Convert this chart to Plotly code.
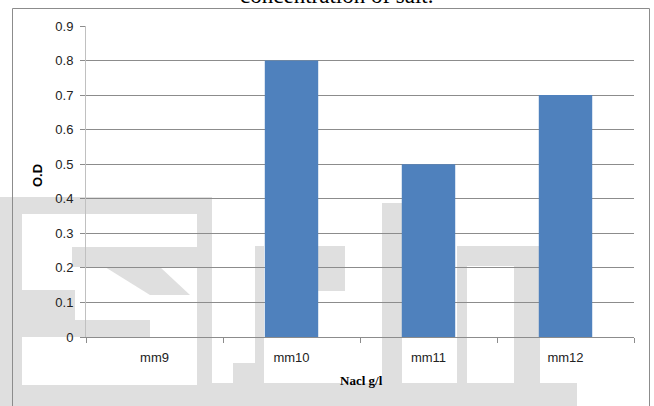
import plotly.graph_objects as go

# Optical density readings per medium
categories = ["mm9", "mm10", "mm11", "mm12"]
od_values = [0.0, 0.8, 0.5, 0.7]

y_ticks = [0, 0.1, 0.2, 0.3, 0.4, 0.5, 0.6, 0.7, 0.8, 0.9]
y_tick_text = ["0", "0.1", "0.2", "0.3", "0.4", "0.5", "0.6", "0.7", "0.8", "0.9"]

W, H = 654, 406
L, R, T, B = 86, 20, 26, 69
PW, PH = W - L - R, H - T - B


def px_x(p):
    return (p - L) / PW


def px_y(p):
    return (H - B - p) / PH


# Faint background lettering (pixel boxes: x0, y0, x1, y1)
backdrop_boxes = [
    (0, 197, 212, 214), (0, 197, 22, 406), (72, 247, 200, 267),
    (0, 290, 75, 337), (0, 320, 150, 337), (0, 385, 212, 406),
    (197, 197, 212, 406),
    (255, 246, 264, 406), (318, 246, 345, 291), (210, 383, 330, 406),
    (233, 363, 264, 406),
    (382, 203, 402, 406), (457, 246, 540, 266), (457, 246, 467, 383),
    (514, 246, 540, 406), (324, 383, 577, 406),
]

shapes = []
for x0, y0, x1, y1 in backdrop_boxes:
    shapes.append(dict(type="rect", xref="paper", yref="paper",
                       x0=px_x(x0), x1=px_x(x1), y0=px_y(y1), y1=px_y(y0),
                       fillcolor="#dfdfdf", line=dict(width=0), layer="below"))
shapes.append(dict(type="path", xref="paper", yref="paper",
                   path="M {} {} L {} {} L {} {} L {} {} Z".format(
                       px_x(105), px_y(267), px_x(160), px_y(267),
                       px_x(190), px_y(295), px_x(150), px_y(295)),
                   fillcolor="#dfdfdf", line=dict(width=0), layer="below"))

# Outer chart frame
shapes.append(dict(type="rect", xref="paper", yref="paper",
                   x0=px_x(12.5), x1=px_x(649.5), y0=px_y(420), y1=px_y(8.5),
                   fillcolor="rgba(0,0,0,0)", line=dict(color="#8c8c8c", width=1),
                   layer="above"))

fig = go.Figure()
fig.add_trace(go.Bar(
    x=categories, y=od_values,
    marker=dict(color="#4f81bd", line=dict(width=0)),
    width=0.39,
))

fig.update_layout(
    width=W, height=H,
    margin=dict(l=L, r=R, t=T, b=B),
    paper_bgcolor="white", plot_bgcolor="white",
    showlegend=False,
    shapes=shapes,
    font=dict(family="Liberation Sans, Arial, sans-serif", size=13, color="#222"),
    annotations=[
        dict(text="concentration of salt.", xref="paper", yref="paper",
             x=px_x(337), y=px_y(10), xanchor="center", yanchor="bottom",
             showarrow=False,
             font=dict(family="Liberation Serif, Times New Roman, serif",
                       size=23, color="black")),
        dict(text="<b>Nacl g/l</b>", xref="paper", yref="paper",
             x=px_x(361), y=px_y(380), xanchor="center", yanchor="middle",
             showarrow=False,
             font=dict(family="Liberation Serif, Times New Roman, serif",
                       size=13, color="black")),
        dict(text="<b>O.D</b>", xref="paper", yref="paper",
             x=px_x(37), y=px_y(176), xanchor="center", yanchor="middle",
             textangle=-90, showarrow=False,
             font=dict(family="Liberation Sans, Arial, sans-serif",
                       size=13, color="black")),
    ],
)

fig.update_xaxes(
    type="category",
    showgrid=False,
    showline=True, linecolor="#8c8c8c", linewidth=1,
    ticks="outside", ticklen=5, tickcolor="#8c8c8c",
    tickson="boundaries",
    ticklabelstandoff=8,
    tickfont=dict(size=13, color="#222"),
    fixedrange=True,
)
fig.update_yaxes(
    range=[0, 0.9],
    tickvals=y_ticks, ticktext=y_tick_text,
    showgrid=True, gridcolor="#8c8c8c", gridwidth=1,
    showline=True, linecolor="#c0c0c0", linewidth=1,
    ticks="outside", ticklen=5, tickcolor="#8c8c8c",
    ticklabelstandoff=4,
    zeroline=False,
    tickfont=dict(size=13, color="#222"),
    fixedrange=True,
)

fig.write_html("out.html")
